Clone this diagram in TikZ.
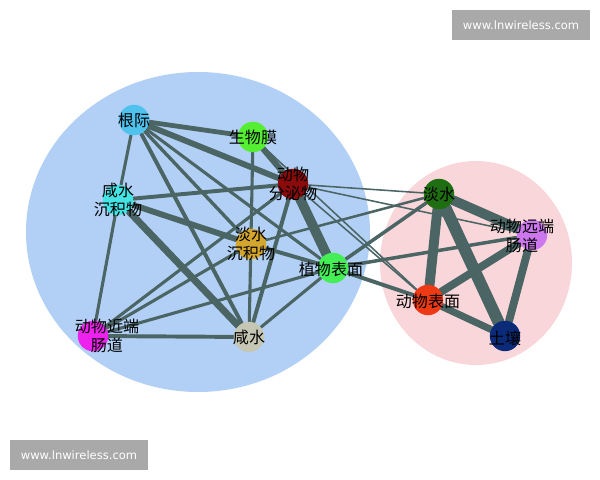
\documentclass[tikz,border=0pt]{standalone}
\usepackage{fontspec}
\setmainfont{Noto Sans CJK SC}
\newfontfamily\cjk{Noto Sans CJK SC}
\newfontfamily\wmfont{DejaVu Sans}

\definecolor{edgecol}{HTML}{4B6565}
\definecolor{blueset}{HTML}{B2D0F5}
\definecolor{pinkset}{HTML}{F9D6DA}
\definecolor{wmgrey}{HTML}{A9A9A9}
\definecolor{cRoot}{HTML}{4FC2EE}
\definecolor{cFilm}{HTML}{55EE33}
\definecolor{cSecr}{HTML}{8A0B0B}
\definecolor{cSaltSed}{HTML}{45E3E3}
\definecolor{cFreshSed}{HTML}{D3A62E}
\definecolor{cPlant}{HTML}{44EE55}
\definecolor{cProx}{HTML}{EE22EE}
\definecolor{cSalt}{HTML}{C6C6B4}
\definecolor{cFresh}{HTML}{1F6E12}
\definecolor{cDist}{HTML}{CC77EE}
\definecolor{cSkin}{HTML}{EE3A14}
\definecolor{cSoil}{HTML}{0B2A78}

\pgfdeclarelayer{back}
\pgfdeclarelayer{links}
\pgfsetlayers{back,links,main}

\begin{document}
\begin{tikzpicture}[x=0.025cm,y=-0.025cm,
    spot/.style={circle,minimum size=0.76cm,inner sep=0pt},
    lbl/.style={font=\cjk\fontsize{11.4}{13}\selectfont,align=center,text=black,inner sep=0pt},
    link/.style={draw=edgecol,line cap=round},
    wmark/.style={fill=wmgrey,text=white,font=\wmfont\fontsize{8.2}{10}\selectfont,minimum width=3.45cm,minimum height=0.75cm,inner sep=0pt}]

    % background and sets
    \begin{pgfonlayer}{back}
    \fill[white] (0,0) rectangle (600,480);
    \fill[blueset] (198,232) ellipse (172 and 160);
    \fill[pinkset] (476,263) ellipse (96 and 102);
    \end{pgfonlayer}

    % habitats
    \node[spot,fill=cRoot] (root) at (134,120) {};
    \node[spot,fill=cFilm] (film) at (253,137) {};
    \node[spot,fill=cSecr] (secr) at (293,184) {};
    \node[spot,fill=cSaltSed] (saltsed) at (118,200) {};
    \node[spot,fill=cFreshSed] (freshsed) at (251,244) {};
    \node[spot,fill=cPlant] (plant) at (333,268) {};
    \node[spot,fill=cProx] (prox) at (93,336) {};
    \node[spot,fill=cSalt] (salt) at (249,337) {};
    \node[spot,fill=cFresh] (fresh) at (439,194) {};
    \node[spot,fill=cDist] (dist) at (532,235) {};
    \node[spot,fill=cSkin] (skin) at (428,300) {};
    \node[spot,fill=cSoil] (soil) at (505,336) {};

    % labels
    \node[lbl] (rootT) at (root) {根际};
    \node[lbl] (filmT) at (film) {生物膜};
    \node[lbl] (secrT) at (secr) {动物\\分泌物};
    \node[lbl] (saltsedT) at (saltsed) {咸水\\沉积物};
    \node[lbl] (freshsedT) at (freshsed) {淡水\\沉积物};
    \node[lbl] (plantT) at (331,269) {植物表面};
    \node[lbl] (proxT) at (107,336) {动物近端\\肠道};
    \node[lbl] (saltT) at (salt) {咸水};
    \node[lbl] (freshT) at (fresh) {淡水};
    \node[lbl] (distT) at (522,236) {动物远端\\肠道};
    \node[lbl] (skinT) at (428,301) {动物表面};
    \node[lbl] (soilT) at (505,338) {土壤};

    % links
    \begin{pgfonlayer}{links}
    \foreach \a/\b/\w in {root/film/3.4, root/secr/4.2, root/saltsed/2.2, root/salt/2.8,
        root/freshsed/2.4, root/plant/2.2, film/secr/4.2, film/salt/2.2, film/skin/1.1,
        saltsed/secr/2.8, saltsed/freshsed/4.2, saltsed/salt/5, saltsed/prox/2.2,
        freshsed/plant/2.8, prox/secr/2.2, prox/freshsed/2.2, prox/plant/2.2, prox/salt/2.8,
        salt/secr/2.8, salt/plant/2.2, secr/plant/7, secr/fresh/1.1, secr/dist/1.1,
        secr/skin/1.1, fresh/freshsed/1.8, fresh/plant/2.5, plant/dist/2.5, plant/skin/2.8,
        fresh/dist/7, fresh/skin/7, fresh/soil/8.5, dist/skin/5.6, dist/soil/5.6, skin/soil/5}
        \draw[link,line width=\w pt] (\a) -- (\b);
    \end{pgfonlayer}

    % watermarks
    \node[wmark] (wmTop) at (521,25) {www.lnwireless.com};
    \node[wmark] (wmBottom) at (79,455) {www.lnwireless.com};

\end{tikzpicture}
\end{document}
